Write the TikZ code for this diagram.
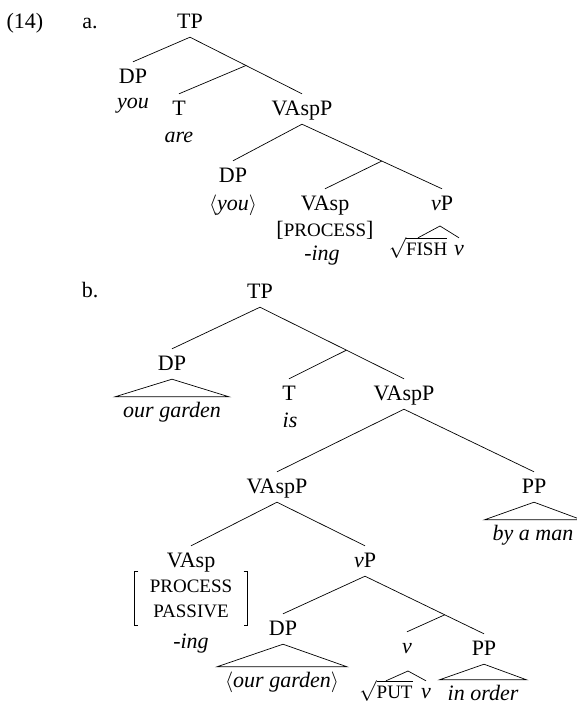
\documentclass[tikz,border=0pt]{standalone}
\usepackage{fontspec}
\setmainfont{Liberation Serif}
\usetikzlibrary{calc,fit}
% capitals set a little smaller, standing in for small caps
\newcommand\smc[1]{{\fontsize{19}{22}\selectfont #1}}
\newcommand\trc[1]{$\langle$#1$\rangle$}

\begin{document}
\begin{tikzpicture}[x=1pt,y=-1pt,
  every node/.style={font=\fontsize{22}{26}\selectfont, inner sep=0pt, anchor=base},
  cat/.style={text height=14pt, text depth=2pt, inner xsep=2pt, inner ysep=7pt},
  lex/.style={font=\fontsize{22}{26}\selectfont\itshape},
  tri/.style={text height=14pt, text depth=4pt, inner xsep=8pt, inner ysep=6pt},
  roofitem/.style={text height=15pt, text depth=0pt, inner ysep=2pt},
  branch/.style={line width=0.7pt, line join=miter},
]
\useasboundingbox (0,0) rectangle (577,705);

% ---------------- (14a) ----------------
\node (ex) at (25,28) {(14)};
\node (la) at (90,28) {a.};
\node[cat] (tpA) at (190,28) {TP};
\node[cat] (dpA) at (133,83) {DP};
\node[lex] (youA) at (133,108) {you};
\node[cat] (tA) at (179,115) {T};
\node[lex] (areA) at (179,142) {are};
\node[cat] (vasppA) at (302,115) {VAspP};
\node[cat] (dp2A) at (233,182) {DP};
\node (youtA) at (233,210) {\trc{\textit{you}}};
\node[cat] (vaspA) at (325,210) {VAsp};
\node (procA) at (325,236) {[\smc{PROCESS}]};
\node[lex] (ingA) at (322,260) {-ing};
\node[cat] (vpA) at (442,210) {\textit{v}P};
\node[roofitem] (fishA) at (418,255) {$\sqrt{\mbox{\smc{FISH}}}$};
\node[roofitem, lex] (vA) at (459,255) {v};
\coordinate (roofA) at (440,226);

\coordinate (jA1) at ($(tpA.south)!0.5!(vasppA.north)$);
\coordinate (jA2) at ($(vasppA.south)!0.57!(vpA.north)$);
\draw[branch] (tpA.south) -- (dpA.north);
\draw[branch] (tpA.south) -- (vasppA.north);
\draw[branch] (jA1) -- (tA.north);
\draw[branch] (vasppA.south) -- (dp2A.north);
\draw[branch] (vasppA.south) -- (vpA.north);
\draw[branch] (jA2) -- (vaspA.north);
\draw[branch] (fishA.north) -- (roofA) -- (vA.north);

% ---------------- (14b) ----------------
\node (lb) at (90,297) {b.};
\node[cat] (tpB) at (260,298) {TP};
\node[cat] (dpB) at (172,370) {DP};
\node[tri, lex] (ogB) at (172,417) {our garden};
\node[cat] (tB) at (289,400) {T};
\node[lex] (isB) at (290,427) {is};
\node[cat] (vasppB) at (404,400) {VAspP};
\node[cat] (ppB) at (534,493) {PP};
\node[tri, lex] (bamB) at (533,540) {by a man};
\node[cat] (vaspp2B) at (277,493) {VAspP};
\node[cat] (vaspB) at (191,567) {VAsp};
\node (procB) at (191,592) {\smc{PROCESS}};
\node (passB) at (191,617) {\smc{PASSIVE}};
\node[fit=(procB)(passB), inner xsep=15pt, inner ysep=8pt, anchor=center] (featB) {};
\node[lex] (ingB) at (191,648) {-ing};
\node[cat] (vpB) at (365,567) {\textit{v}P};
\node[cat] (dp2B) at (283,635) {DP};
\node[tri] (ogtB) at (282,687) {\trc{\textit{our garden}}};
\node[cat, lex] (vB) at (407,653) {v};
\node[cat] (pp2B) at (484,655) {PP};
\node[tri, lex] (ioB) at (483,700) {in order};
\node[roofitem] (putB) at (386,698) {$\sqrt{\mbox{\smc{PUT}}}$};
\node[roofitem, lex] (vvB) at (426,698) {v};
\coordinate (roofB) at (408,671);

\coordinate (jB1) at ($(tpB.south)!0.6!(vasppB.north)$);
\coordinate (jB2) at ($(vpB.south)!0.67!(pp2B.north)$);
\draw[branch] (tpB.south) -- (dpB.north);
\draw[branch] (tpB.south) -- (vasppB.north);
\draw[branch] (jB1) -- (tB.north);
\draw[branch] (dpB.south) -- (ogB.north east) -- (ogB.north west) -- cycle;
\draw[branch] (vasppB.south) -- (vaspp2B.north);
\draw[branch] (vasppB.south) -- (ppB.north);
\draw[branch] (ppB.south) -- (bamB.north east) -- (bamB.north west) -- cycle;
\draw[branch] (vaspp2B.south) -- (vaspB.north);
\draw[branch] (vaspp2B.south) -- (vpB.north);
\draw[branch] (vpB.south) -- (dp2B.north);
\draw[branch] (vpB.south) -- (pp2B.north);
\draw[branch] (jB2) -- (vB.north);
\draw[branch] (dp2B.south) -- (ogtB.north east) -- (ogtB.north west) -- cycle;
\draw[branch] (pp2B.south) -- (ioB.north east) -- (ioB.north west) -- cycle;
\draw[branch] (putB.north) -- (roofB) -- (vvB.north);

% feature matrix brackets
\draw[branch] ([xshift=4pt]featB.north west) -- (featB.north west)
  -- (featB.south west) -- ([xshift=4pt]featB.south west);
\draw[branch] ([xshift=-4pt]featB.north east) -- (featB.north east)
  -- (featB.south east) -- ([xshift=-4pt]featB.south east);
\end{tikzpicture}
\end{document}
